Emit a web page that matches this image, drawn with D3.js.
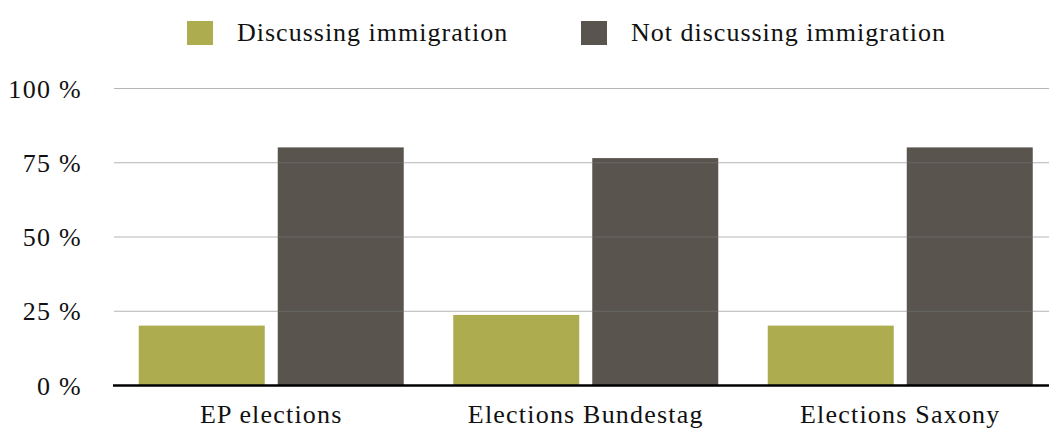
<!DOCTYPE html>
<html><head><meta charset="utf-8">
<script src="https://cdn.jsdelivr.net/npm/d3@7"></script>
<style>body{margin:0;background:#fff;} svg{display:block;} text{font-family:"Liberation Serif","Times New Roman",serif;fill:#111;}</style>
</head><body><svg id="c" width="1049" height="430"></svg>
<script>
const categories = ["EP elections", "Elections Bundestag", "Elections Saxony"];
const seriesNames = ["Discussing immigration", "Not discussing immigration"];
const discussing = [20, 23.6, 20];
const notDiscussing = [80, 76.4, 80];
const yTicks = [0, 25, 50, 75, 100];
const colors = ["#adad50", "#59554e"];

const data = categories.map((c, i) => ({cat: c, vals: [discussing[i], notDiscussing[i]]}));
const svg = d3.select("#c");
const x0 = d3.scaleBand().domain(categories).range([114, 1057.5]).paddingInner(0).paddingOuter(0);
const x1 = d3.scaleBand().domain([0, 1]).range([24.75, x0.bandwidth() - 24.75]).paddingInner(0.0935).paddingOuter(0);
const y = d3.scaleLinear().domain([0, 100]).range([385, 88]);

// bars
const g = svg.append("g");
data.forEach(d => {
  g.selectAll(null).data(d.vals).enter().append("rect")
    .attr("x", (v, j) => x0(d.cat) + x1(j))
    .attr("width", x1.bandwidth())
    .attr("y", v => y(v))
    .attr("height", v => y(0) - y(v))
    .attr("fill", (v, j) => colors[j]);
});

// gridlines on top
const yAxis = d3.axisLeft(y).tickValues(yTicks).tickSize(-(1049 - 114)).tickFormat(d => d + " %");
const ya = svg.append("g").attr("transform", "translate(114,0)").call(yAxis)
  .attr("font-family", null).attr("font-size", null);
ya.select(".domain").remove();
ya.selectAll(".tick line").attr("stroke", "rgba(120,120,120,0.55)").attr("stroke-width", 1.2)
  .filter(d => d === 0).remove();
ya.selectAll(".tick text").attr("x", -32).attr("dy", "0.35em")
  .attr("font-family", "Liberation Serif, serif").attr("font-size", 26).attr("letter-spacing", 1.3).attr("fill", "#111");

// baseline
svg.append("line").attr("x1", 113).attr("x2", 1049).attr("y1", y(0)+0.5).attr("y2", y(0)+0.5).attr("stroke", "#000").attr("stroke-width", 2.5);

// x labels
const xAxis = d3.axisBottom(x0).tickSize(0).tickPadding(0);
const xa = svg.append("g").attr("transform", `translate(0,${y(0)})`).call(xAxis)
  .attr("font-family", null).attr("font-size", null);
xa.select(".domain").remove();
xa.selectAll(".tick text").attr("y", 38).attr("dy", 0)
  .attr("font-family", "Liberation Serif, serif").attr("font-size", 26).attr("letter-spacing", 1.2).attr("fill", "#111");

// legend
const legX = [187, 581];
const lg = svg.append("g");
seriesNames.forEach((s, i) => {
  lg.append("rect").attr("x", legX[i]).attr("y", 21).attr("width", 26).attr("height", 24).attr("fill", colors[i]);
  lg.append("text").attr("x", legX[i] + 50).attr("y", 41).attr("font-size", 26).attr("letter-spacing", 1).text(s);
});
</script></body></html>
